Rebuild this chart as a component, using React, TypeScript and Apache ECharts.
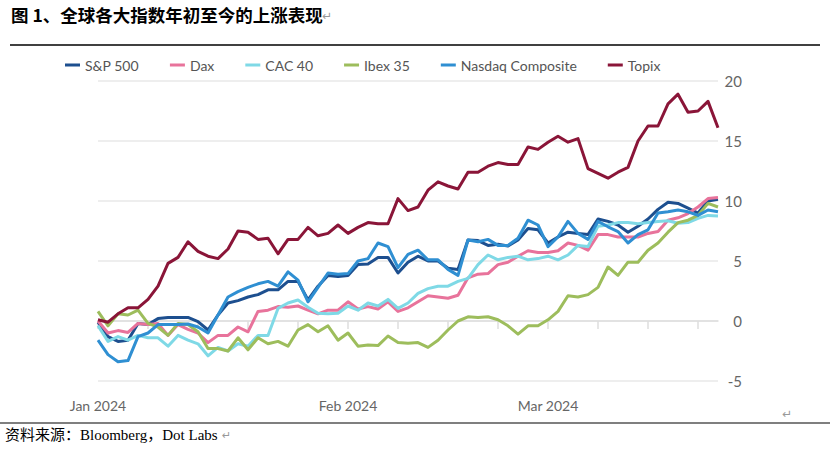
import React, { useEffect, useRef } from "react";
import * as echarts from "echarts";

const dates = [
  "2024-01-01", "2024-01-02", "2024-01-03", "2024-01-04", "2024-01-05",
  "2024-01-08", "2024-01-09", "2024-01-10", "2024-01-11", "2024-01-12",
  "2024-01-15", "2024-01-16", "2024-01-17", "2024-01-18", "2024-01-19",
  "2024-01-22", "2024-01-23", "2024-01-24", "2024-01-25", "2024-01-26",
  "2024-01-29", "2024-01-30", "2024-01-31", "2024-02-01", "2024-02-02",
  "2024-02-05", "2024-02-06", "2024-02-07", "2024-02-08", "2024-02-09",
  "2024-02-12", "2024-02-13", "2024-02-14", "2024-02-15", "2024-02-16",
  "2024-02-19", "2024-02-20", "2024-02-21", "2024-02-22", "2024-02-23",
  "2024-02-26", "2024-02-27", "2024-02-28", "2024-02-29", "2024-03-01",
  "2024-03-04", "2024-03-05", "2024-03-06", "2024-03-07", "2024-03-08",
  "2024-03-11", "2024-03-12", "2024-03-13", "2024-03-14", "2024-03-15",
  "2024-03-18", "2024-03-19", "2024-03-20", "2024-03-21", "2024-03-22",
  "2024-03-25", "2024-03-26", "2024-03-27",
];

const weekTicks = [
  "2024-01-01", "2024-01-08", "2024-01-15", "2024-01-22", "2024-01-29",
  "2024-02-05", "2024-02-12", "2024-02-19", "2024-02-26",
  "2024-03-04", "2024-03-11", "2024-03-18", "2024-03-25",
];

const monthLabels: Record<string, string> = {
  "2024-01-01": "Jan 2024",
  "2024-02-05": "Feb 2024",
  "2024-03-04": "Mar 2024",
};

const yTicks = [-5, 0, 5, 10, 15, 20];

const sp500 = [
  -0.1, -1.3, -1.7, -1.6, -0.2, -0.3, 0.2, 0.3, 0.3, 0.3,
  -0.05, -0.75, 0.5, 1.5, 1.7, 2.0, 2.2, 2.6, 2.6, 3.3,
  3.3, 1.75, 2.9, 3.8, 3.7, 3.8, 4.7, 4.75, 5.3, 5.3,
  4.0, 4.9, 5.4, 5.0, 5.0, 4.4, 4.3, 6.75, 6.7, 6.3,
  6.4, 6.25, 6.75, 7.7, 7.6, 6.5, 7.0, 7.4, 7.3, 7.2,
  8.5, 8.3, 8.0, 7.4, 7.9, 8.5, 9.3, 9.9, 9.8, 9.4,
  9.0, 10.0, 10.15,
];

const dax = [
  0.0, -1.0, -0.8, -0.95, -0.2, -0.3, -0.2, -1.2, -0.3, -0.7,
  -1.0, -1.8, -1.2, -1.2, -0.5, -0.9, 0.8, 0.9, 1.2, 1.15,
  1.25, 0.9, 0.6, 0.9, 0.9, 1.6, 1.0, 1.2, 1.0, 1.6,
  0.8, 1.1, 1.6, 2.1, 2.0, 1.9, 2.15, 3.6, 3.9, 3.95,
  4.7, 4.9, 5.4, 5.85, 5.7, 5.7, 5.85, 6.5, 6.3, 5.9,
  7.2, 7.2, 7.0, 7.0, 7.0, 7.3, 7.45, 8.4, 8.6, 8.95,
  9.5, 10.2, 10.3,
];

const cac40 = [
  -0.4, -1.7, -1.3, -1.6, -1.2, -1.4, -1.4, -2.1, -1.2, -1.6,
  -1.9, -2.9, -2.2, -2.5, -1.9, -2.1, -1.2, -1.2, 1.05, 1.5,
  1.75, 1.15, 0.65, 0.6, 0.65, 1.25, 0.9, 1.5, 1.25, 1.8,
  1.05, 1.5, 2.3, 2.7, 2.9, 2.9, 3.3, 3.55, 4.7, 5.5,
  5.1, 5.3, 5.4, 5.1, 5.2, 5.4, 5.1, 5.5, 6.3, 6.2,
  7.9, 8.0, 8.2, 8.2, 8.1, 8.2, 8.3, 8.35, 8.15, 8.2,
  8.55, 8.8, 8.75,
];

const ibex35 = [
  0.8, -0.4, 0.6, 0.5, 0.9, -0.2, -0.5, -1.2, -0.2, -0.3,
  -0.9, -2.3, -2.3, -2.5, -1.4, -2.4, -1.4, -1.9, -1.7, -2.1,
  -0.75, -0.3, -0.9, -0.4, -1.6, -1.0, -2.1, -2.0, -2.05, -1.25,
  -1.8, -1.85, -1.8, -2.2, -1.6, -0.75, 0.0, 0.35, 0.3, 0.35,
  0.1, -0.4, -1.1, -0.4, -0.4, 0.1, 0.8, 2.1, 2.0, 2.2,
  2.8, 4.5, 3.8, 4.9, 4.9, 5.9, 6.5, 7.4, 8.2, 8.4,
  8.8, 9.8, 9.5,
];

const nasdaq = [
  -1.6, -2.8, -3.4, -3.3, -1.3, -1.0, -0.3, -0.3, -0.3, -0.25,
  -0.5, -1.0, 0.5, 2.0, 2.45, 2.8, 3.1, 3.3, 2.9, 4.1,
  3.4, 1.6, 2.8, 4.0, 3.9, 3.95, 5.0, 5.2, 6.5, 6.2,
  4.45, 5.55, 5.9, 5.1, 5.1, 4.3, 3.8, 6.75, 6.6, 6.8,
  6.3, 6.3, 6.9, 8.4, 8.0, 6.2, 7.0, 8.3, 7.3, 6.8,
  8.3, 7.85, 7.45, 6.5, 7.2, 7.6, 9.0, 9.1, 9.25, 9.1,
  8.8, 9.25, 9.1,
];

const topix = [
  0.1, -0.1, 0.6, 1.1, 1.1, 1.8, 2.9, 4.8, 5.3, 6.6,
  5.8, 5.4, 5.2, 6.0, 7.5, 7.4, 6.8, 6.9, 5.6, 6.8,
  6.8, 7.8, 7.1, 7.3, 8.0, 7.3, 7.8, 8.2, 8.1, 8.1,
  10.2, 9.2, 9.5, 10.9, 11.6, 11.25, 11.0, 12.4, 12.4, 12.9,
  13.2, 13.05, 13.05, 14.5, 14.3, 14.9, 15.4, 14.9, 15.2, 12.7,
  12.3, 11.9, 12.4, 12.8, 15.0, 16.25, 16.25, 18.1, 18.9, 17.4,
  17.5, 18.3, 16.1,
];

const seriesNames = ["S&P 500", "Dax", "CAC 40", "Ibex 35", "Nasdaq Composite", "Topix"];
const seriesColors = ["#1d4f8f", "#e8739b", "#7fd9e6", "#9dbd5c", "#2f8fd2", "#8a1538"];
const seriesData = [sp500, dax, cac40, ibex35, nasdaq, topix];

const titleText = "图 1、全球各大指数年初至今的上涨表现";
const sourceText = "资料来源：Bloomberg，Dot Labs";

const FONT = "Lato, 'Noto Sans', sans-serif";

export default function App() {
  const ref = useRef<HTMLDivElement>(null);

  useEffect(() => {
    document.body.style.margin = "0";
    const chart = echarts.init(ref.current!, null, { renderer: "svg" });
    chart.setOption({
      animation: false,
      backgroundColor: "#ffffff",
      textStyle: { fontFamily: FONT },
      legend: {
        left: 60,
        top: 53,
        icon: "rect",
        itemWidth: 15,
        itemHeight: 3,
        itemGap: 31,
        textStyle: { color: "#555", fontSize: 14, fontFamily: FONT },
        data: seriesNames,
      },
      grid: { left: 98, right: 112, top: 81, bottom: 72 },
      xAxis: {
        type: "category",
        boundaryGap: false,
        data: dates,
        axisLine: { lineStyle: { color: "#dedede", width: 1.5 } },
        axisTick: {
          show: true,
          length: 8,
          interval: (_i: number, v: string) => weekTicks.includes(v),
          lineStyle: { color: "#dedede", width: 1.5 },
        },
        axisLabel: {
          interval: (_i: number, v: string) => v in monthLabels,
          formatter: (v: string) => monthLabels[v] || "",
          color: "#666",
          fontSize: 14,
          fontFamily: FONT,
          margin: 17,
        },
        splitLine: { show: false },
      },
      yAxis: {
        type: "value",
        position: "right",
        min: yTicks[0],
        max: yTicks[yTicks.length - 1],
        interval: 5,
        axisLine: { show: false },
        axisTick: { show: false },
        splitLine: { lineStyle: { color: "#e9e9e9", width: 1.5 } },
        axisLabel: {
          color: "#666",
          fontSize: 15,
          fontFamily: FONT,
          align: "right",
          margin: 24,
        },
      },
      series: seriesNames.map((name, k) => ({
        name,
        type: "line",
        data: seriesData[k],
        symbol: "none",
        smooth: false,
        color: seriesColors[k],
        lineStyle: { width: 3, color: seriesColors[k], join: "round" },
        z: 2 + k,
      })),
      graphic: [
        {
          type: "text",
          left: 11,
          top: 6,
          style: {
            text: titleText,
            font: "bold 17.5px 'Noto Sans CJK SC', sans-serif",
            fill: "#000",
          },
        },
        {
          type: "text",
          left: 322,
          top: 10,
          style: { text: "↵", font: "12px 'DejaVu Sans', sans-serif", fill: "#999" },
        },
        {
          type: "line",
          shape: { x1: 10, y1: 45, x2: 820, y2: 45 },
          style: { stroke: "#000", lineWidth: 1.5 },
        },
        {
          type: "text",
          left: 782,
          top: 408,
          style: { text: "↵", font: "12px 'DejaVu Sans', sans-serif", fill: "#999" },
        },
        {
          type: "line",
          shape: { x1: 0, y1: 423, x2: 830, y2: 423 },
          style: { stroke: "#000", lineWidth: 1.2 },
        },
        {
          type: "text",
          left: 5,
          top: 427,
          style: {
            text: sourceText,
            font: "15px 'Liberation Serif', 'Noto Sans CJK SC', serif",
            fill: "#000",
          },
        },
        {
          type: "text",
          left: 222,
          top: 430,
          style: { text: "↵", font: "11px 'DejaVu Sans', sans-serif", fill: "#999" },
        },
      ],
    });
    return () => chart.dispose();
  }, []);

  return (
    <div
      ref={ref}
      style={{ position: "absolute", left: 0, top: 0, width: 830, height: 453, background: "#fff" }}
    />
  );
}
